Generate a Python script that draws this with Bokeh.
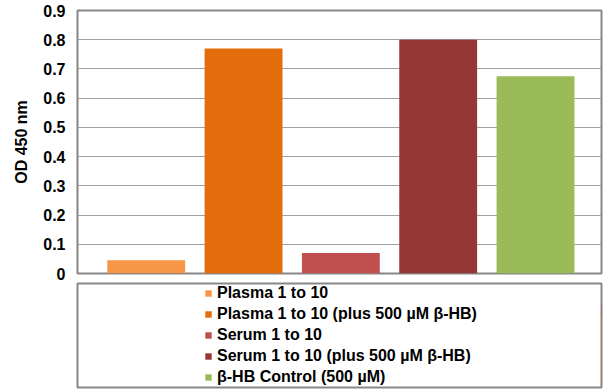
from bokeh.plotting import figure
from bokeh.models import Range1d, FixedTicker, Legend, LegendItem, ColumnDataSource
from bokeh.layouts import column
from bokeh.embed import file_html
from bokeh.resources import INLINE

# ---- data ----
series = [
    "Plasma 1 to 10",
    "Plasma 1 to 10 (plus 500 µM β-HB)",
    "Serum 1 to 10",
    "Serum 1 to 10 (plus 500 µM β-HB)",
    "β-HB Control (500 µM)",
]
values = [0.045, 0.77, 0.07, 0.80, 0.675]
colors = ["#F79646", "#E46C0A", "#C0504D", "#953735", "#9BBB59"]
y_ticks = [0, 0.1, 0.2, 0.3, 0.4, 0.5, 0.6, 0.7, 0.8, 0.9]
y_tick_labels = ["0", "0.1", "0.2", "0.3", "0.4", "0.5", "0.6", "0.7", "0.8", "0.9"]
y_title = "OD 450 nm"

FONT = "Liberation Sans"
GRAY = "#878787"
FS = "16px"

source = ColumnDataSource(dict(x=list(range(len(series))), top=values, color=colors, name=series))

p = figure(width=610, height=282,
           x_range=Range1d(-0.706, 4.678), y_range=Range1d(0, 0.9),
           x_axis_location=None,
           output_backend="svg", toolbar_location=None,
           min_border_left=75, min_border_right=9, min_border_top=10, min_border_bottom=9)
p.vbar(x="x", top="top", width=0.8, fill_color="color", line_color=None, source=source)

p.yaxis.ticker = FixedTicker(ticks=y_ticks)
p.yaxis.major_label_overrides = {t: l for t, l in zip(y_ticks, y_tick_labels)}
p.yaxis.axis_label = y_title
p.yaxis.axis_label_text_font = FONT
p.yaxis.axis_label_text_font_style = "bold"
p.yaxis.axis_label_text_font_size = FS
p.yaxis.axis_label_text_color = "black"
p.yaxis.axis_label_standoff = 10
p.yaxis.major_label_text_font = FONT
p.yaxis.major_label_text_font_style = "bold"
p.yaxis.major_label_text_font_size = FS
p.yaxis.major_label_text_color = "black"
p.yaxis.major_label_standoff = 12
p.yaxis.major_tick_out = 0
p.yaxis.major_tick_in = 0
p.yaxis.minor_tick_out = 0
p.yaxis.minor_tick_in = 0
p.yaxis.axis_line_color = None

p.xgrid.visible = False
p.ygrid.grid_line_color = "#a0a0a0"
p.ygrid.grid_line_width = 1
p.outline_line_color = GRAY
p.outline_line_width = 2
p.background_fill_color = "white"
p.border_fill_color = "white"

# ---- legend box (separate strip below the chart) ----
p2 = figure(width=610, height=110,
            x_range=Range1d(-20, -19), y_range=Range1d(0, 1),
            x_axis_location=None, y_axis_location=None,
            output_backend="svg", toolbar_location=None,
            min_border_left=77, min_border_right=8, min_border_top=1, min_border_bottom=5)
p2.xgrid.visible = False
p2.ygrid.visible = False
p2.outline_line_color = GRAY
p2.outline_line_width = 2
p2.border_fill_color = "white"

# legend proxy renderer (same data, kept out of view of this strip)
proxy = p2.vbar(x="x", top="top", width=0.8, fill_color="color", line_color=None, source=source)
items = [LegendItem(label=name, renderers=[proxy], index=i) for i, name in enumerate(series)]

legend = Legend(items=items, location=(127, 0), padding=0, margin=0, spacing=0,
                border_line_color=None, background_fill_alpha=0,
                glyph_width=8, glyph_height=8, label_standoff=5, label_height=21,
                label_text_font=FONT, label_text_font_style="bold",
                label_text_font_size=FS, label_text_color="black")
p2.add_layout(legend, "center")

layout = column(p, p2, spacing=0)
open("out.html", "w").write(file_html(layout, INLINE))
